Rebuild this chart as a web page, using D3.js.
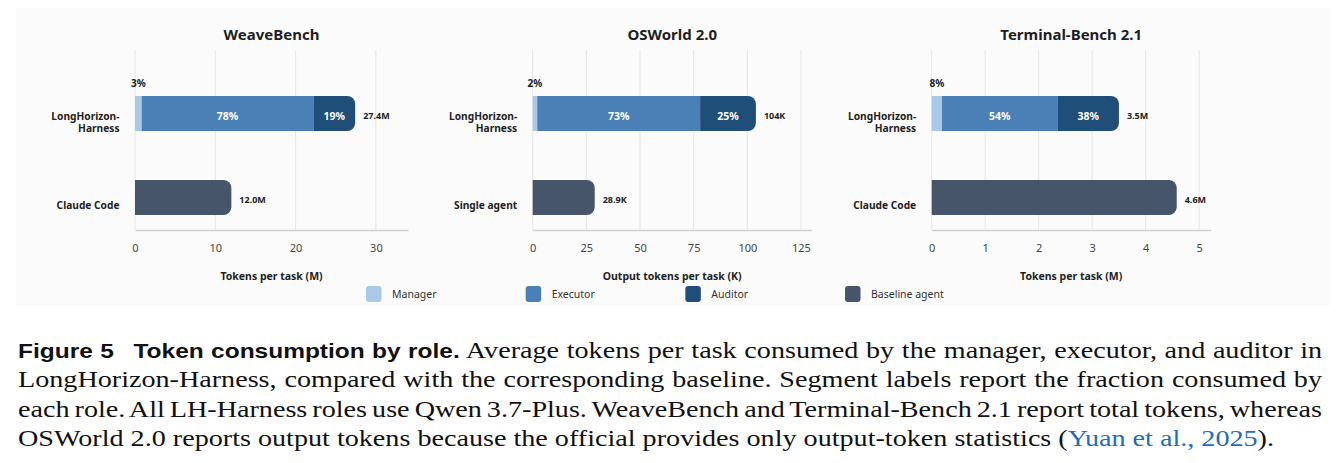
<!DOCTYPE html>
<html><head><meta charset="utf-8">
<script src="https://cdn.jsdelivr.net/npm/d3@7"></script>
<style>
html,body{margin:0;padding:0;background:#fff;}
svg{display:block;}
</style></head>
<body>
<svg id="chart" width="1340" height="463"></svg>
<script>
// ---- data ----
const panelTitles = ["WeaveBench", "OSWorld 2.0", "Terminal-Bench 2.1"];
const axisTitles = ["Tokens per task (M)", "Output tokens per task (K)", "Tokens per task (M)"];
const baselineNames = ["Claude Code", "Single agent", "Claude Code"];
const harnessName = ["LongHorizon-", "Harness"];
const managerValues = [0.82, 2.1, 0.19];
const executorValues = [21.4, 75.9, 2.16];
const auditorValues = [5.2, 26.0, 1.15];
const baselineValues = [12.0, 28.9, 4.58];
const managerLabels = ["3%", "2%", "8%"];
const executorLabels = ["78%", "73%", "54%"];
const auditorLabels = ["19%", "25%", "38%"];
const harnessTotals = ["27.4M", "104K", "3.5M"];
const baselineTotals = ["12.0M", "28.9K", "4.6M"];
const xMax = [34, 130, 5.215];
const tickValues = [[0, 10, 20, 30], [0, 25, 50, 75, 100, 125], [0, 1, 2, 3, 4, 5]];
const legendNames = ["Manager", "Executor", "Auditor", "Baseline agent"];
const legendColors = ["#a9c9e8", "#4a80b6", "#1f4e79", "#465569"];
const captionBold = "Figure 5\u2002 Token consumption by role.";
const captionLines = [
  " Average tokens per task consumed by the manager, executor, and auditor in",
  "LongHorizon-Harness, compared with the corresponding baseline. Segment labels report the fraction consumed by",
  "each role. All LH-Harness roles use Qwen 3.7-Plus. WeaveBench and Terminal-Bench 2.1 report total tokens, whereas",
  "OSWorld 2.0 reports output tokens because the official provides only output-token statistics ("
];
const captionCite = "Yuan et al., 2025";
const captionEnd = ").";

// ---- layout ----
const svg = d3.select("#chart");
const sans = "'Noto Sans', 'Open Sans', sans-serif";
const panelX = [[135, 408], [532.7, 811.7], [931.7, 1210.7]];
const gridTop = 50, axisY = 230;
const barH = 35;

svg.append("rect").attr("x", 16).attr("y", 8).attr("width", 1314).attr("height", 298).attr("fill", "#fbfbfb");

function roundRightPath(x0, x1, y, h, r) {
  r = Math.min(r, (x1 - x0), h / 2);
  const p = d3.path();
  p.moveTo(x0, y);
  p.lineTo(x1 - r, y);
  p.arcTo(x1, y, x1, y + r, r);
  p.lineTo(x1, y + h - r);
  p.arcTo(x1, y + h, x1 - r, y + h, r);
  p.lineTo(x0, y + h);
  p.closePath();
  return p.toString();
}

panelTitles.forEach((title, i) => {
  const x = d3.scaleLinear().domain([0, xMax[i]]).range(panelX[i]);
  const g = svg.append("g");
  const cx = (panelX[i][0] + panelX[i][1]) / 2;
  g.append("text").attr("x", cx).attr("y", 39.5).attr("text-anchor", "middle")
    .attr("font-family", sans).attr("font-weight", 700).attr("font-size", 15).attr("fill", "#1f1f1f").text(title);

  g.selectAll("line.grid").data(tickValues[i]).enter().append("line")
    .attr("x1", d => x(d)).attr("x2", d => x(d)).attr("y1", gridTop).attr("y2", axisY)
    .attr("stroke", "#e6e6e6").attr("stroke-width", 1);
  const axis = d3.axisBottom(x).tickValues(tickValues[i]).tickFormat(d3.format("d")).tickSize(0).tickPadding(14);
  const ag = g.append("g").attr("transform", `translate(0,${axisY})`).call(axis);
  ag.select(".domain").attr("stroke", "#cfcfcf").attr("stroke-width", 1.5);
  ag.selectAll("text").attr("font-family", sans).attr("font-size", 11).attr("fill", "#444");
  g.append("text").attr("x", cx).attr("y", 280).attr("text-anchor", "middle")
    .attr("font-family", sans).attr("font-weight", 700).attr("font-size", 10.5).attr("fill", "#222").text(axisTitles[i]);

  const yH = 96, yB = 180;
  const m = managerValues[i], e = executorValues[i], a = auditorValues[i];
  g.append("rect").attr("x", x(0)).attr("y", yH).attr("width", x(m) - x(0)).attr("height", barH).attr("fill", legendColors[0]);
  g.append("rect").attr("x", x(m)).attr("y", yH).attr("width", x(m + e) - x(m)).attr("height", barH).attr("fill", legendColors[1]);
  g.append("path").attr("d", roundRightPath(x(m + e), x(m + e + a), yH, barH, 8)).attr("fill", legendColors[2]);
  g.append("path").attr("d", roundRightPath(x(0), x(baselineValues[i]), yB, barH, 8)).attr("fill", legendColors[3]);

  g.append("text").attr("x", (x(0) + x(m)) / 2).attr("y", 87).attr("text-anchor", "middle")
    .attr("font-family", sans).attr("font-weight", 700).attr("font-size", 10).attr("fill", "#222").text(managerLabels[i]);
  g.append("text").attr("x", (x(m) + x(m + e)) / 2).attr("y", 119.5).attr("text-anchor", "middle")
    .attr("font-family", sans).attr("font-weight", 700).attr("font-size", 10.5).attr("fill", "#fff").text(executorLabels[i]);
  g.append("text").attr("x", (x(m + e) + x(m + e + a)) / 2).attr("y", 119.5).attr("text-anchor", "middle")
    .attr("font-family", sans).attr("font-weight", 700).attr("font-size", 10.5).attr("fill", "#fff").text(auditorLabels[i]);
  g.append("text").attr("x", x(m + e + a) + 8).attr("y", 119).attr("font-family", sans).attr("font-weight", 700)
    .attr("font-size", 9).attr("fill", "#222").text(harnessTotals[i]);
  g.append("text").attr("x", x(baselineValues[i]) + 8).attr("y", 202.5).attr("font-family", sans).attr("font-weight", 700)
    .attr("font-size", 9).attr("fill", "#222").text(baselineTotals[i]);

  const lx = x(0) - 15.5;
  g.append("text").attr("x", lx).attr("y", 119.5).attr("text-anchor", "end").attr("font-family", sans)
    .attr("font-weight", 700).attr("font-size", 10.2).attr("fill", "#222").text(harnessName[0]);
  g.append("text").attr("x", lx).attr("y", 131.5).attr("text-anchor", "end").attr("font-family", sans)
    .attr("font-weight", 700).attr("font-size", 10.2).attr("fill", "#222").text(harnessName[1]);
  g.append("text").attr("x", lx).attr("y", 209).attr("text-anchor", "end").attr("font-family", sans)
    .attr("font-weight", 700).attr("font-size", 10.2).attr("fill", "#222").text(baselineNames[i]);
});

// legend
const legX = d3.scalePoint().domain(legendNames).range([366, 845]);
const lg = svg.append("g").selectAll("g").data(legendNames).enter().append("g")
  .attr("transform", d => `translate(${legX(d)},286)`);
lg.append("rect").attr("width", 15.5).attr("height", 16).attr("rx", 3).attr("fill", (d, i) => legendColors[i]);
lg.append("text").attr("x", 26).attr("y", 12).attr("font-family", sans).attr("font-size", 10.5).attr("fill", "#333").text(d => d);

// caption
const serif = "'Liberation Serif', 'DejaVu Serif', serif";
const capBase = [357.5, 387, 416.5, 446];
const capSize = 23;
const capLeft = 18, fullW = 1305, lastW = 1257;
function mk(k) {
  return svg.append("text").attr("x", 0).attr("y", 0).attr("font-family", serif)
    .attr("font-size", capSize).attr("fill", "#111");
}
const t3 = mk(3);
t3.append("tspan").text(captionLines[3]);
t3.append("tspan").attr("fill", "#1b6fb8").text(captionCite);
t3.append("tspan").text(captionEnd);
const sx = lastW / t3.node().getComputedTextLength();
t3.attr("transform", `translate(${capLeft},${capBase[3]}) scale(${sx},1)`);

function justify(t, k) {
  const len = t.node().getComputedTextLength();
  const words = t.text().split(" ").length - 1;
  t.attr("word-spacing", (fullW / sx - len) / words);
  t.attr("transform", `translate(${capLeft},${capBase[k]}) scale(${sx},1)`);
}
const t0 = mk(0);
t0.append("tspan").attr("font-family", "'Liberation Sans', sans-serif").attr("font-weight", 700).attr("font-size", 20).text(captionBold);
t0.append("tspan").text(captionLines[0]);
justify(t0, 0);
for (let k = 1; k < 3; k++) {
  const t = mk(k).text(captionLines[k]);
  justify(t, k);
}
</script>
</body></html>
